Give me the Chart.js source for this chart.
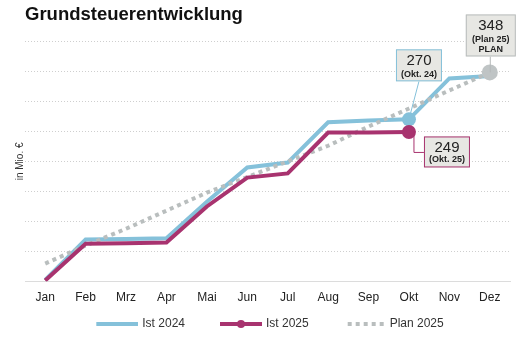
<!DOCTYPE html>
<html lang="de">
<head>
  <meta charset="UTF-8">
  <title>Grundsteuerentwicklung</title>
  <script src="https://cdn.jsdelivr.net/npm/chart.js"></script>
  <style>
    html, body {
      margin: 0;
      padding: 0;
      background: #fff;
    }
    #wrap {
      width: 530px;
      height: 350px;
    }
  </style>
</head>
<body>
<div id="wrap">
  <canvas id="myChart" width="530" height="350"></canvas>
</div>

<script>
  // Daten (in Mio. €)
  const months = ['Jan', 'Feb', 'Mrz', 'Apr', 'Mai', 'Jun', 'Jul', 'Aug', 'Sep', 'Okt', 'Nov', 'Dez'];
  const ist2024 = [3, 70, 71, 72, 133, 190, 198, 265, 268, 270, 338, 342];
  const ist2025 = [2, 63, 64, 65, 125, 173, 180, 248, 248, 249, null, null];
  const plan2025 = [30, 60, 88, 118, 148, 174, 200, 226, 258, 288, 318, 348];
  const yTicks = [0, 50, 100, 150, 200, 250, 300, 350, 400];

  const FONT = "'Liberation Sans', Arial, sans-serif";
  const BLUE = '#85c1da';
  const MAGENTA = '#a8336f';
  const GRAY = '#b9bebe';
  const BOXFILL = '#e7e7e3';

  // Legenden-Symbole: links transparenter Rand (Abstand zum vorigen Eintrag),
  // Canvas ist 4px breiter als die Box, damit die Linie näher am Text endet
  const ICON_BOX = 63;
  function legendIcon(type, color, len) {
    const c = document.createElement('canvas');
    c.width = ICON_BOX + 4;
    c.height = 10;
    const g = c.getContext('2d');
    const x0 = ICON_BOX + 4 - len;
    g.strokeStyle = color;
    g.lineWidth = 4;
    if (type === 'dash') g.setLineDash([4, 4]);
    g.beginPath();
    g.moveTo(x0, 5);
    g.lineTo(ICON_BOX + 4, 5);
    g.stroke();
    if (type === 'dot') {
      g.fillStyle = color;
      g.beginPath();
      g.arc(x0 + len / 2, 5, 4, 0, Math.PI * 2);
      g.fill();
    }
    return c;
  }

  const legendItems = [
    {text: 'Ist 2024', icon: legendIcon('line', BLUE, 42)},
    {text: 'Ist 2025', icon: legendIcon('dot', MAGENTA, 42)},
    {text: 'Plan 2025', icon: legendIcon('dash', GRAY, 38)}
  ];

  // Legende etwas nach links (der transparente Rand des ersten Symbols zählt mit)
  const legendShiftPlugin = {
    id: 'legendShift',
    afterLayout(chart) {
      chart.legend.left -= 9;
      chart.legend.right -= 9;
    }
  };

  // y-Achsentitel
  const yTitlePlugin = {
    id: 'yTitle',
    afterDraw(chart) {
      const {ctx, chartArea} = chart;
      ctx.save();
      ctx.translate(20, (chartArea.top + chartArea.bottom) / 2);
      ctx.rotate(-Math.PI / 2);
      ctx.font = '10px ' + FONT;
      ctx.fillStyle = '#333';
      ctx.textAlign = 'center';
      ctx.textBaseline = 'middle';
      ctx.fillText('in Mio. €', 0, 0);
      ctx.restore();
    }
  };

  // Wert-Boxen an den markierten Punkten
  function drawBox(ctx, cx, cy, w, h, border, lines) {
    ctx.fillStyle = BOXFILL;
    ctx.fillRect(cx - w / 2, cy - h / 2, w, h);
    ctx.strokeStyle = border;
    ctx.lineWidth = 1;
    ctx.strokeRect(cx - w / 2 + 0.5, cy - h / 2 + 0.5, w - 1, h - 1);
    ctx.fillStyle = '#222';
    ctx.textAlign = 'center';
    ctx.textBaseline = 'middle';
    lines.forEach(l => {
      ctx.font = l.font;
      ctx.fillText(l.text, cx, cy - h / 2 + l.dy);
    });
  }

  const calloutPlugin = {
    id: 'callouts',
    afterDatasetsDraw(chart) {
      const {ctx} = chart;
      const x = chart.scales.x, y = chart.scales.y;
      ctx.save();

      // Ist 2024, Okt
      let px = x.getPixelForValue(9), py = y.getPixelForValue(ist2024[9]);
      let bx = px + 10, by = py - 54;
      ctx.strokeStyle = BLUE;
      ctx.lineWidth = 1;
      ctx.beginPath();
      ctx.moveTo(bx, by + 16);
      ctx.lineTo(px, py);
      ctx.stroke();
      drawBox(ctx, bx, by, 46, 32, BLUE, [
        {text: String(ist2024[9]), font: '15px ' + FONT, dy: 12},
        {text: '(Okt. 24)', font: 'bold 9px ' + FONT, dy: 25}
      ]);

      // Ist 2025, Okt
      px = x.getPixelForValue(9);
      py = y.getPixelForValue(ist2025[9]);
      bx = px + 38;
      by = py + 20;
      ctx.strokeStyle = MAGENTA;
      ctx.beginPath();
      ctx.moveTo(px + 5, py);
      ctx.lineTo(px + 5, by + 0.5);
      ctx.lineTo(bx - 23, by + 0.5);
      ctx.stroke();
      drawBox(ctx, bx, by, 46, 31, MAGENTA, [
        {text: String(ist2025[9]), font: '15px ' + FONT, dy: 11},
        {text: '(Okt. 25)', font: 'bold 9px ' + FONT, dy: 23}
      ]);

      // Plan 2025, Dez
      px = x.getPixelForValue(11);
      py = y.getPixelForValue(plan2025[11]);
      bx = px + 1;
      by = py - 37;
      ctx.strokeStyle = '#b5b9b9';
      ctx.beginPath();
      ctx.moveTo(px + 0.5, by + 21);
      ctx.lineTo(px + 0.5, py);
      ctx.stroke();
      drawBox(ctx, bx, by, 50, 42, '#b9bdbd', [
        {text: String(plan2025[11]), font: '15px ' + FONT, dy: 11},
        {text: '(Plan 25)', font: 'bold 9px ' + FONT, dy: 25},
        {text: 'PLAN', font: 'bold 9px ' + FONT, dy: 35}
      ]);

      ctx.restore();
    }
  };

  const ctx = document.getElementById('myChart').getContext('2d');
  const myChart = new Chart(ctx, {
    type: 'line',
    data: {
      labels: months,
      datasets: [{
        label: 'Ist 2024',
        data: ist2024,
        borderColor: BLUE,
        backgroundColor: BLUE,
        borderWidth: 4,
        pointRadius: c => c.dataIndex === 9 ? 7 : 0,
        pointBorderWidth: 0,
        order: 3
      }, {
        label: 'Ist 2025',
        data: ist2025,
        borderColor: MAGENTA,
        backgroundColor: MAGENTA,
        borderWidth: 4,
        pointRadius: c => c.dataIndex === 9 ? 7 : 0,
        pointBorderWidth: 0,
        order: 1
      }, {
        label: 'Plan 2025',
        data: plan2025,
        borderColor: GRAY,
        backgroundColor: '#bfc4c5',
        borderWidth: 4,
        borderDash: [4, 4],
        pointRadius: c => c.dataIndex === 11 ? 8 : 0,
        pointBorderWidth: 0,
        order: 2
      }]
    },
    options: {
      responsive: false,
      animation: false,
      layout: {
        padding: {left: 25, right: 20, top: 0, bottom: 10}
      },
      scales: {
        x: {
          offset: true,
          grid: {display: false},
          border: {display: true, color: '#dcdcdc'},
          ticks: {
            color: '#222',
            font: {family: FONT, size: 12},
            padding: 1
          }
        },
        y: {
          min: yTicks[0],
          max: yTicks[yTicks.length - 1],
          afterBuildTicks: s => { s.ticks = yTicks.map(v => ({value: v})); },
          ticks: {display: false},
          grid: {
            drawTicks: false,
            color: c => c.tick && c.tick.value === 0 ? 'rgba(0,0,0,0)' : '#cfcfcf'
          },
          border: {display: false, dash: [1, 2]}
        }
      },
      plugins: {
        title: {
          display: true,
          text: 'Grundsteuerentwicklung',
          align: 'start',
          color: '#111',
          font: {family: FONT, size: 18.5, weight: 'bold'},
          padding: {top: 4, bottom: 15}
        },
        legend: {
          position: 'bottom',
          labels: {
            usePointStyle: true,
            pointStyleWidth: ICON_BOX,
            boxHeight: 10,
            padding: 12,
            color: '#333',
            font: {family: FONT, size: 12},
            generateLabels: () => legendItems.map((it, i) => ({
              text: it.text,
              pointStyle: it.icon,
              datasetIndex: i,
              fontColor: '#333',
              lineWidth: 0,
              strokeStyle: 'rgba(0,0,0,0)',
              fillStyle: 'rgba(0,0,0,0)'
            }))
          }
        },
        tooltip: {enabled: false}
      }
    },
    plugins: [legendShiftPlugin, yTitlePlugin, calloutPlugin]
  });
</script>
</body>
</html>
